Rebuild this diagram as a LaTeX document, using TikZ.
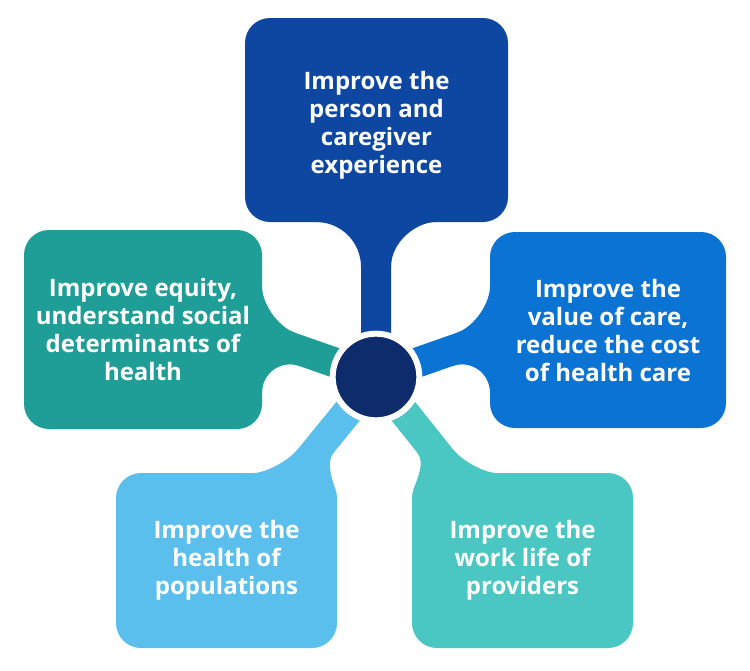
\documentclass[tikz,border=0pt]{standalone}
\usepackage{fontspec}
\setmainfont{Open Sans}
\usepackage{xcolor}
\usetikzlibrary{positioning,backgrounds}

\definecolor{personblue}{HTML}{0D47A1}
\definecolor{valueblue}{HTML}{0A73D4}
\definecolor{equityteal}{HTML}{1F9E97}
\definecolor{popblue}{HTML}{5BBFEE}
\definecolor{provteal}{HTML}{4AC7C2}
\definecolor{hubnavy}{HTML}{0E2C6C}

\begin{document}
\begin{tikzpicture}[
    x=0.75pt, y=-0.75pt,
    box/.style={rectangle, rounded corners=18.75pt, align=center, text=white, inner sep=0pt,
        font=\fontsize{18}{21}\selectfont\bfseries},
    stem/.style={line width=22.5pt},
    core/.style={circle, fill=hubnavy, draw=white, line width=4.5pt, minimum size=65pt, inner sep=0pt}
]
\useasboundingbox (0,0) rectangle (750,671);

% Central node
\node[core] (hub) at (376,377) {};

% Goal boxes
\node[box, fill=personblue, minimum width=197.25pt, minimum height=153pt] (person) at (376.5,120)
    {\rule{0pt}{22pt}Improve the\\person and\\caregiver\\experience};
\node[box, fill=equityteal, minimum width=178.5pt, minimum height=149.25pt] (equity) at (143,329.5)
    {Improve equity,\\understand social\\determinants of\\health};
\node[box, fill=valueblue, minimum width=177pt, minimum height=147pt] (value) at (608,330)
    {Improve the\\value of care,\\reduce the cost\\of health care};
\node[box, fill=popblue, minimum width=165.75pt, minimum height=131.25pt] (populations) at (226.5,560.5)
    {Improve the\\health of\\populations};
\node[box, fill=provteal, minimum width=165.75pt, minimum height=131.25pt] (providers) at (522.5,560.5)
    {Improve the\\work life of\\providers};

\coordinate (equity-in) at (262,337);
\coordinate (value-in) at (490,337);

% Stems
\begin{scope}[on background layer]
\draw[stem, personblue] (hub.center) -- (person);
\draw[stem, equityteal] (hub.center) -- (equity-in);
\draw[stem, valueblue] (hub.center) -- (value-in);
\draw[stem, popblue] (hub.center) -- (populations);
\draw[stem, provteal] (hub.center) -- (providers);

% flares where the stems meet the boxes
\fill[personblue] (316,222) .. controls (341,222) and (361,242) .. (361,267) -- (391,267)
    .. controls (391,242) and (416,222) .. (436,222) -- (436,212) -- (316,212) -- cycle;
\fill[equityteal] (262,286) .. controls (262,304) and (278,326.7) .. (295,332.7) -- (299.8,366.1)
    .. controls (280.9,359.5) and (262,373) .. (262,393) -- (252,393) -- (252,286) -- cycle;
\fill[valueblue] (490,286) .. controls (490,304) and (474,326.7) .. (457,332.7) -- (452.2,366.1)
    .. controls (471.1,359.5) and (490,373) .. (490,393) -- (500,393) -- (500,286) -- cycle;
\fill[popblue] (253.4,473) .. controls (265.4,473) and (287.8,461.3) .. (297.3,449.7) -- (334,452)
    .. controls (326.4,461.3) and (330.7,476.2) .. (335.5,489.4) -- (310,500) -- (253.4,500) -- cycle;
\fill[provteal] (496.8,473) .. controls (484.8,473) and (462.5,461.2) .. (453.1,449.5) -- (417.3,452.9)
    .. controls (424.8,462.3) and (418.3,476.2) .. (413.5,489.4) -- (440,500) -- (496.8,500) -- cycle;
\end{scope}

\end{tikzpicture}
\end{document}
